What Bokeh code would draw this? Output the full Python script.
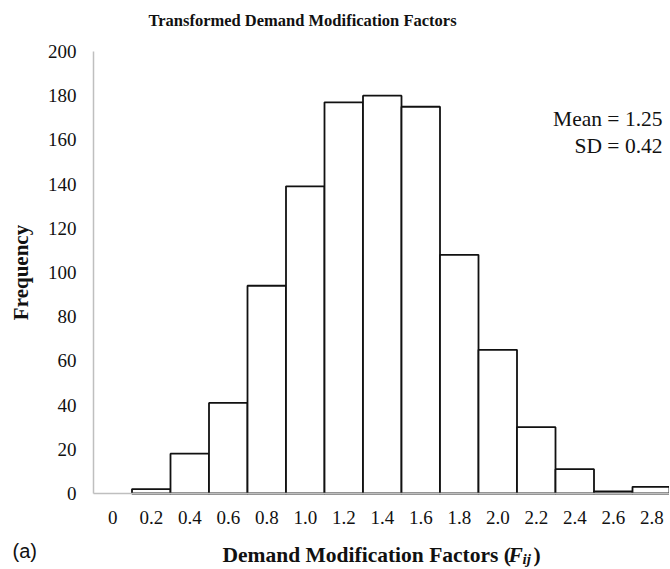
from bokeh.plotting import figure
from bokeh.models import ColumnDataSource, Label, FixedTicker, Range1d
from bokeh.embed import file_html
from bokeh.resources import INLINE

# ---- data ----
bin_labels = ["0", "0.2", "0.4", "0.6", "0.8", "1.0", "1.2", "1.4",
              "1.6", "1.8", "2.0", "2.2", "2.4", "2.6", "2.8"]
frequency = [0, 2, 18, 41, 94, 139, 177, 180, 175, 108, 65, 30, 11, 1, 3]
y_ticks = [0, 20, 40, 60, 80, 100, 120, 140, 160, 180, 200]
y_max = 200
title_text = "Transformed Demand Modification Factors"
xlabel_main = "Demand Modification Factors ("
xlabel_var = "F"
xlabel_sub = "ij"
ylabel_text = "Frequency"
stats_lines = ["Mean = 1.25", "SD = 0.42"]
panel_tag = "(a)"

# ---- layout constants (pixels) ----
W, H = 669, 568          # canvas size
OX, OY = 1, 1            # canvas origin on the page
AX_LEFT, AX_BOTTOM, AX_TOP = 94, 494, 52   # page px of the axes
CAT_W = 38.5             # px per category
BASE_SHIFT = 6           # empirical baseline correction for labels

ppu_y = (AX_BOTTOM - AX_TOP) / y_max
x_start = -0.5 - (AX_LEFT - OX) / CAT_W
x_end = x_start + W / CAT_W
y_end = (AX_BOTTOM - OY) / ppu_y
y_start = -((OY + H) - AX_BOTTOM) / ppu_y

def sx(px):
    return px - OX

def sy(py):
    return (OY + H) - (py - BASE_SHIFT)

idx = list(range(len(bin_labels)))
nz = [i for i in idx if frequency[i] > 0]
src = ColumnDataSource(dict(x=[idx[i] for i in nz], top=[frequency[i] for i in nz]))

SERIF = "Liberation Serif"
INK = "#111111"
p = figure(width=W, height=H, output_backend="svg", toolbar_location=None,
           x_range=Range1d(x_start, x_end), y_range=Range1d(y_start, y_end),
           min_border_left=0, min_border_right=0, min_border_top=0,
           min_border_bottom=0)
p.outline_line_color = None
p.xgrid.visible = False
p.ygrid.visible = False

p.vbar(x="x", top="top", width=1.0, bottom=0, source=src,
       fill_color="white", line_color=INK, line_width=1.8)

# axes placed at fixed data locations
p.xaxis.fixed_location = 0
p.yaxis.fixed_location = -0.5
p.xaxis.bounds = (-0.5, x_end)
p.yaxis.bounds = (0, y_max)
p.xaxis.ticker = FixedTicker(ticks=idx)
p.xaxis.major_label_overrides = {i: bin_labels[i] for i in idx}
p.yaxis.ticker = FixedTicker(ticks=y_ticks)
for ax in (p.xaxis[0], p.yaxis[0]):
    ax.axis_line_color = "#bfbfbf"
    ax.axis_line_width = 1.5
    ax.major_tick_line_color = None
    ax.minor_tick_line_color = None
    ax.major_tick_out = 0
    ax.major_tick_in = 0
    ax.major_label_text_font = SERIF
    ax.major_label_text_font_size = "19px"
    ax.major_label_text_color = INK
p.xaxis.major_label_standoff = 17
p.yaxis.major_label_standoff = 17

p.yaxis.axis_label = ylabel_text
p.yaxis.axis_label_text_font = SERIF
p.yaxis.axis_label_text_font_style = "bold"
p.yaxis.axis_label_text_font_size = "21px"
p.yaxis.axis_label_text_color = INK
p.yaxis.axis_label_standoff = 12

def lab(px, py, text, align="left", size="21px", style="normal", font=SERIF):
    p.add_layout(Label(x=sx(px), y=sy(py), x_units="screen", y_units="screen",
                       text=text, text_align=align, text_baseline="alphabetic",
                       text_font=font, text_font_style=style, text_font_size=size,
                       text_color=INK))

# title
lab(303, 27, title_text, align="center", size="16.5px", style="bold")

# x axis label in pieces
lab(223, 561, xlabel_main, size="21.5px", style="bold")
lab(509, 561, xlabel_var, size="21.5px", style="bold italic")
lab(523, 565, xlabel_sub, size="15px", style="bold italic")
lab(534, 561, ")", size="21.5px", style="bold")

# panel tag
lab(13, 557, panel_tag, size="20px", font="Liberation Sans")

# stats
lab(663, 125, stats_lines[0], align="right", size="21.5px")
lab(663, 152, stats_lines[1], align="right", size="21.5px")

open("out.html", "w").write(file_html(p, INLINE))
